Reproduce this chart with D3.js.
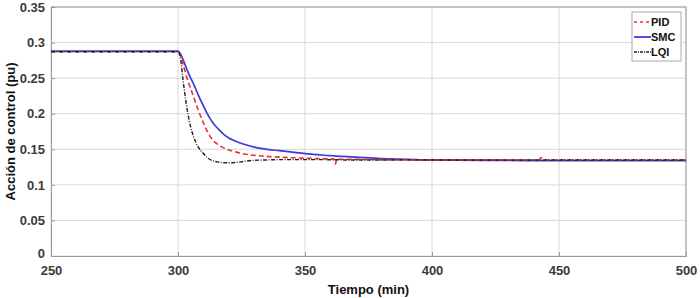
<!DOCTYPE html>
<html><head><meta charset="utf-8">
<script src="https://cdn.jsdelivr.net/npm/d3@7"></script>
<style>body{margin:0;background:#fff}svg{display:block}</style>
</head><body>
<svg id="c" width="700" height="298"></svg>
<script>
const time = [250,299,300,301,302,303,304,305,306,308,310,312,314,316,318,320,323,326,330,335,340,345,350,355,360,361.5,362,362.5,365,370,380,390,400,420,442,443,444,460,480,500];
const pid  = [0.287,0.287,0.287,0.282,0.270,0.257,0.245,0.235,0.225,0.205,0.187,0.172,0.162,0.156,0.152,0.149,0.146,0.1435,0.1415,0.140,0.139,0.138,0.1375,0.137,0.1365,0.1363,0.129,0.1362,0.136,0.1358,0.1355,0.1352,0.135,0.135,0.135,0.1385,0.135,0.135,0.135,0.135];
const smc  = [0.288,0.288,0.288,0.284,0.276,0.267,0.258,0.250,0.243,0.226,0.211,0.197,0.186,0.178,0.171,0.166,0.161,0.157,0.153,0.150,0.148,0.146,0.144,0.1425,0.141,0.1407,0.1405,0.1403,0.140,0.139,0.137,0.136,0.135,0.1345,0.134,0.134,0.134,0.134,0.134,0.134];
const lqi  = [0.287,0.287,0.287,0.277,0.247,0.220,0.198,0.181,0.169,0.153,0.144,0.137,0.1335,0.132,0.131,0.131,0.1315,0.133,0.1345,0.135,0.1355,0.1355,0.1355,0.1355,0.1353,0.1352,0.1352,0.1352,0.135,0.135,0.135,0.135,0.135,0.135,0.135,0.135,0.135,0.135,0.135,0.135];
const xTicks = [250,300,350,400,450,500];
const yTicks = [0,0.05,0.1,0.15,0.2,0.25,0.3,0.35];
const seriesNames = ["PID","SMC","LQI"];

const svg = d3.select("#c");
const L=51,R=686,T=7,B=256;
const x = d3.scaleLinear().domain([250,500]).range([L,R]);
const y = d3.scaleLinear().domain([0,0.35]).range([B,T]);
const font = "'Liberation Sans', Arial, sans-serif";
const txt = "#3a3a3a";

// grid
svg.append("g").selectAll("line").data(xTicks).join("line")
  .attr("x1",d=>x(d)).attr("x2",d=>x(d)).attr("y1",T).attr("y2",B)
  .attr("stroke","#d9d9d9").attr("stroke-width",1);
svg.append("g").selectAll("line").data(yTicks).join("line")
  .attr("x1",L).attr("x2",R).attr("y1",d=>y(d)).attr("y2",d=>y(d))
  .attr("stroke","#d9d9d9").attr("stroke-width",1);

// axes
const ax = svg.append("g").attr("transform",`translate(0,${B})`)
  .call(d3.axisBottom(x).tickValues(xTicks).tickSize(-4).tickPadding(10).tickFormat(d3.format("d")));
const ay = svg.append("g").attr("transform",`translate(${L},0)`)
  .call(d3.axisLeft(y).tickValues(yTicks).tickSize(-4).tickPadding(6).tickFormat(d=>d===0?"0":String(+d.toFixed(2))));
[ax,ay].forEach(g=>{
  g.select(".domain").attr("stroke","#9a9a9a");
  g.selectAll(".tick line").attr("stroke","#9a9a9a");
  g.selectAll("text").attr("font-family",font).attr("font-size",13).attr("font-weight","bold").attr("fill",txt);
});
ay.selectAll(".tick").filter(d=>d===0).select("text").attr("dy","0.1em");
// frame top/right
svg.append("line").attr("x1",L).attr("x2",R).attr("y1",T).attr("y2",T).attr("stroke","#9a9a9a");
svg.append("line").attr("x1",R).attr("x2",R).attr("y1",T).attr("y2",B).attr("stroke","#9a9a9a");

// lines
const mk = vals => d3.line().x((d,i)=>x(time[i])).y(d=>y(d)).curve(d3.curveMonotoneX)(vals);
svg.append("path").attr("d",mk(smc)).attr("fill","none").attr("stroke","#3b3bdc").attr("stroke-width",1.7);
svg.append("path").attr("d",mk(pid)).attr("fill","none").attr("stroke","#e8322e").attr("stroke-width",1.6).attr("stroke-dasharray","5,3");
svg.append("path").attr("d",mk(lqi)).attr("fill","none").attr("stroke","#222").attr("stroke-width",1.4).attr("stroke-dasharray","4,1.5,1,1.5");

// labels
svg.append("text").attr("x",(L+R)/2).attr("y",294).attr("text-anchor","middle")
  .attr("font-family",font).attr("font-size",13).attr("font-weight","bold").attr("fill","#111").text("Tiempo (min)");
svg.append("text").attr("transform",`translate(15,${(T+B)/2}) rotate(-90)`).attr("text-anchor","middle")
  .attr("font-family",font).attr("font-size",13).attr("font-weight","bold").attr("fill","#111").text("Acción de control (pu)");

// legend
const lg = svg.append("g");
lg.append("rect").attr("x",632).attr("y",12).attr("width",49).attr("height",49).attr("fill","#fff").attr("stroke","#aaa");
const styles = [{c:"#e8322e",d:"3,3",w:1.4},{c:"#3b3bdc",d:null,w:1.8},{c:"#222",d:"3,1,1,1",w:1.3}];
seriesNames.forEach((n,i)=>{
  const yy = 22+i*15;
  lg.append("line").attr("x1",634).attr("x2",651).attr("y1",yy).attr("y2",yy)
    .attr("stroke",styles[i].c).attr("stroke-width",styles[i].w).attr("stroke-dasharray",styles[i].d);
  lg.append("text").attr("x",651).attr("y",yy+4).attr("font-family",font).attr("font-size",11)
    .attr("font-weight","bold").attr("fill","#111").text(n);
});
</script>
</body></html>
